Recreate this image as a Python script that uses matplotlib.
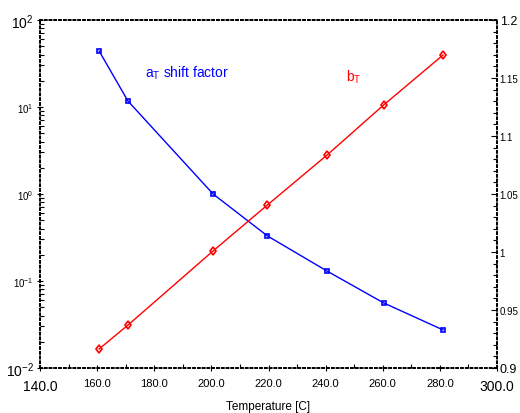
import matplotlib
matplotlib.use("Agg")
import matplotlib.pyplot as plt
from matplotlib.ticker import MultipleLocator, LogLocator, FixedLocator
import numpy as np

plt.rcParams['font.family'] = ['Liberation Sans', 'DejaVu Sans']

# data
temp = [160.7, 170.8, 200.6, 219.6, 240.5, 260.3, 281.1]
a_T = [44.0, 11.7, 1.0, 0.33, 0.13, 0.056, 0.0274]
b_T = [0.9164, 0.937, 1.0009, 1.0405, 1.0836, 1.1267, 1.1698]

x_ticks = [140, 160, 180, 200, 220, 240, 260, 280, 300]
y2_ticks = [0.9, 0.95, 1.0, 1.05, 1.1, 1.15, 1.2]

fig = plt.figure(figsize=(5.2, 4.14), dpi=100)
ax = fig.add_axes([0.0769, 0.1087, 0.8789, 0.8406])
ax2 = ax.twinx()

ax.plot(temp, a_T, color='#0000ff', lw=1.0, marker='s', ms=3.5,
        mfc='none', mec='#0000ff', mew=1.2)
ax2.plot(temp, b_T, color='#ff0000', lw=1.0, marker='d', ms=4.5,
         mfc='none', mec='#ff0000', mew=1.2)

ax.set_xlim(140, 300)
ax.set_yscale('log')
ax.set_ylim(1e-2, 1e2)
ax2.set_ylim(0.9, 1.2)

ax.xaxis.set_major_locator(FixedLocator(x_ticks))
ax.xaxis.set_minor_locator(MultipleLocator(10))
ax.set_xticklabels(['%.1f' % t for t in x_ticks])
ax.yaxis.set_major_locator(LogLocator(base=10, numticks=10))
ax.yaxis.set_minor_locator(LogLocator(base=10, subs=np.arange(2, 10), numticks=10))
ax2.yaxis.set_major_locator(FixedLocator(y2_ticks))
ax2.yaxis.set_minor_locator(MultipleLocator(0.01))
ax2.set_yticklabels(['%g' % v for v in y2_ticks])

for a in (ax, ax2):
    for s in a.spines.values():
        s.set_linestyle(':')
        s.set_linewidth(1.3)
    a.tick_params(which='major', direction='inout', length=5, width=0.8, pad=2)
    a.tick_params(which='minor', direction='in', length=3, width=0.8)
ax2.tick_params(which='major', direction='in', length=4)

ax.tick_params(axis='x', labelsize=8, pad=5)
ax.tick_params(axis='y', labelsize=7)
ax2.tick_params(axis='y', labelsize=7, pad=2)

fig.canvas.draw()
xl = ax.get_xticklabels()
for i in (0, len(xl) - 1):
    xl[i].set_fontsize(10)
    xl[i].set_y(-0.003)
yl = ax.get_yticklabels()
for lab in yl:
    if lab.get_text() in ('$\\mathdefault{10^{-2}}$', '$\\mathdefault{10^{2}}$'):
        lab.set_fontsize(10)
y2l = ax2.get_yticklabels()
y2l[0].set_fontsize(9)
y2l[-1].set_fontsize(9)

ax.set_xlabel('Temperature [C]', fontsize=8.5, va='center')
ax.xaxis.set_label_coords(0.5, -0.109)

ax.text(176.8, 25, '$\\mathregular{a_T}$ shift factor', color='#0000ff', fontsize=10,
        va='center')
ax.text(247, 22.7, '$\\mathregular{b_T}$', color='#ff0000', fontsize=10,
        va='center')

fig.savefig('out.png', dpi=100)
